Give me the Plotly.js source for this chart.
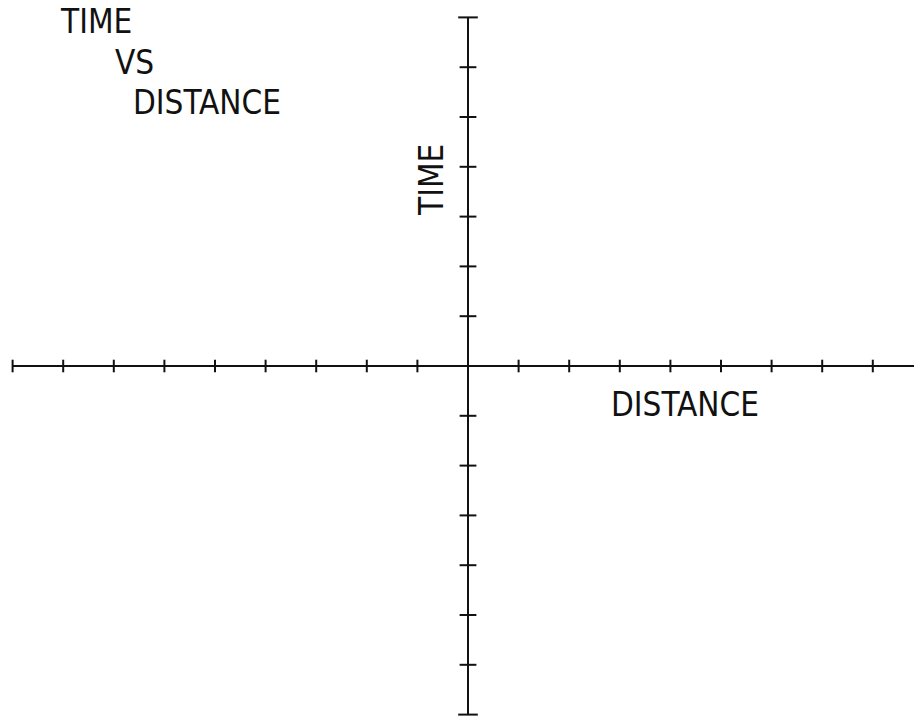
<!DOCTYPE html>
<html>
<head>
<meta charset="utf-8">
<script src="https://cdn.plot.ly/plotly-3.0.1.min.js"></script>
<style>html,body{margin:0;padding:0;background:#fff;}#chart{width:914px;height:719px;}</style>
</head>
<body>
<div id="chart"></div>
<script>
// Axis extents (data units) and tick positions
const xAxisExtent = [-9, 8.85];
const yAxisExtent = [-7, 7];
const xTickVals = [-9, -8, -7, -6, -5, -4, -3, -2, -1, 1, 2, 3, 4, 5, 6, 7, 8];
const yTickVals = [-6, -5, -4, -3, -2, -1, 1, 2, 3, 4, 5, 6];
const yEndCaps = [-7, 7];
const titleLines = ["TIME", "VS", "DISTANCE"];
const xLabel = "DISTANCE";
const yLabel = "TIME";

const ink = "#111";
const FONT = {family: "DejaVu Sans Condensed, Liberation Sans Narrow, sans-serif", size: 33, color: ink, weight: 200};

const traces = [
  {x: xAxisExtent, y: [0, 0], mode: "lines", line: {color: ink, width: 2}, hoverinfo: "skip"},
  {x: [0, 0], y: yAxisExtent, mode: "lines", line: {color: ink, width: 2}, hoverinfo: "skip"},
  {x: xTickVals, y: xTickVals.map(() => 0), mode: "markers",
   marker: {symbol: "line-ns", size: 9, line: {color: ink, width: 2}}, hoverinfo: "skip"},
  {x: yTickVals.map(() => 0), y: yTickVals, mode: "markers",
   marker: {symbol: "line-ew", size: 12, line: {color: ink, width: 2}}, hoverinfo: "skip"},
  {x: yEndCaps.map(() => 0), y: yEndCaps, mode: "markers",
   marker: {symbol: "line-ew", size: 14, line: {color: ink, width: 2}}, hoverinfo: "skip"}
];

const W = 914, H = 719;
function px(x) { return x / W; }
function py(y) { return 1 - y / H; }

const annotations = [
  {text: titleLines[0], x: px(58), y: py(21), xanchor: "left", yanchor: "middle"},
  {text: titleLines[1], x: px(113), y: py(62), xanchor: "left", yanchor: "middle"},
  {text: titleLines[2], x: px(131), y: py(103), xanchor: "left", yanchor: "middle"},
  {text: xLabel, x: px(685), y: py(404), xanchor: "center", yanchor: "middle"},
  {text: yLabel, x: px(432), y: py(180), xanchor: "center", yanchor: "middle", textangle: -90}
].map(a => Object.assign({xref: "paper", yref: "paper", showarrow: false, font: FONT}, a));

const layout = {
  width: W, height: H,
  margin: {l: 0, r: 0, t: 0, b: 0},
  paper_bgcolor: "#fff", plot_bgcolor: "#fff",
  showlegend: false,
  xaxis: {range: [-468 / 50.6, (W - 468) / 50.6], visible: false, fixedrange: true},
  yaxis: {range: [-(H - 366) / 49.8, 366 / 49.8], visible: false, fixedrange: true},
  annotations: annotations
};

Plotly.newPlot("chart", traces, layout, {displayModeBar: false, staticPlot: true});
</script>
</body>
</html>
